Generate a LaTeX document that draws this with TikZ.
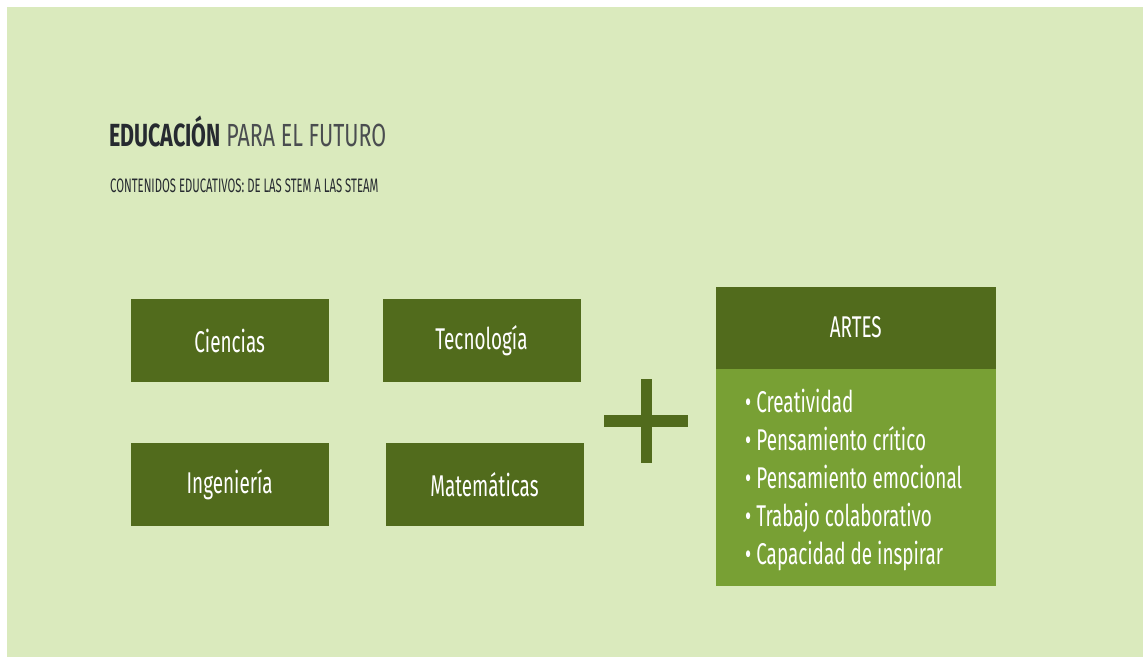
\documentclass[tikz,border=0pt]{standalone}
\usepackage{fontspec}
\setmainfont{Fira Sans}[FakeStretch=0.63]
\newfontfamily\titlefont{Fira Sans}[FakeStretch=0.67]
\newfontfamily\subfont{Fira Sans}[FakeStretch=0.58]
\usepackage{tikz}
\usetikzlibrary{positioning}
\definecolor{bggreen}{HTML}{DAEABD}
\definecolor{darkgreen}{HTML}{516B1C}
\definecolor{lightgreen}{HTML}{78A034}
\definecolor{titledark}{HTML}{262A30}
\definecolor{titlegray}{HTML}{4A4D50}

\begin{document}
\begin{tikzpicture}[x = 1pt, y = -1pt,
  stembox/.style = {fill = darkgreen, text = white, minimum width = 198pt, minimum height = 83pt, inner sep = 0pt, font = \fontsize{30}{36}\selectfont},
  artshead/.style = {fill = darkgreen, text = white, minimum width = 280pt, minimum height = 82pt, inner sep = 0pt, font = \fontsize{30}{36}\selectfont},
  artsbody/.style = {fill = lightgreen, minimum width = 280pt, minimum height = 217pt, inner sep = 0pt}]
\useasboundingbox (0,0) rectangle (1144,657);
\fill[white] (0,0) rectangle (1144,657);
\fill[bggreen] (7,7) rectangle (1143,657);
% title
\node[anchor = base west, inner sep = 0pt, font = \titlefont\fontsize{32}{36}\selectfont] (title) at (109,146) {\textcolor{titledark}{\bfseries EDUCACIÓN} \textcolor{titlegray}{PARA EL FUTURO}};
\node[anchor = base west, inner sep = 0pt, text = titledark, font = \subfont\fontsize{19.5}{22}\selectfont] (subtitle) at (110,192.7) {CONTENIDOS EDUCATIVOS: DE LAS STEM A LAS STEAM};
% stem boxes
\node[stembox] (ciencias) at (229.7,340.7) {Ciencias};
\node[stembox] (tecnologia) at (481.5,340.7) {Tecnología};
\node[stembox] (ingenieria) at (229.7,484.3) {Ingeniería};
\node[stembox] (matematicas) at (484.5,484.3) {Matemáticas};
% plus sign
\fill[darkgreen] (604.3,415) rectangle (687.7,426.7);
\fill[darkgreen] (641,379) rectangle (651.7,463.3);
% artes
\node[artshead] (artes) at (855.8,327.5) {ARTES};
\node[artsbody, below = 0pt of artes] (artesbody) {};
\node[anchor = west, text = white, align = left, inner sep = 0pt, font = \fontsize{30}{38}\selectfont] (valores) at (745,480) {• Creatividad\\• Pensamiento crítico\\• Pensamiento emocional\\• Trabajo colaborativo\\• Capacidad de inspirar};
\end{tikzpicture}
\end{document}
